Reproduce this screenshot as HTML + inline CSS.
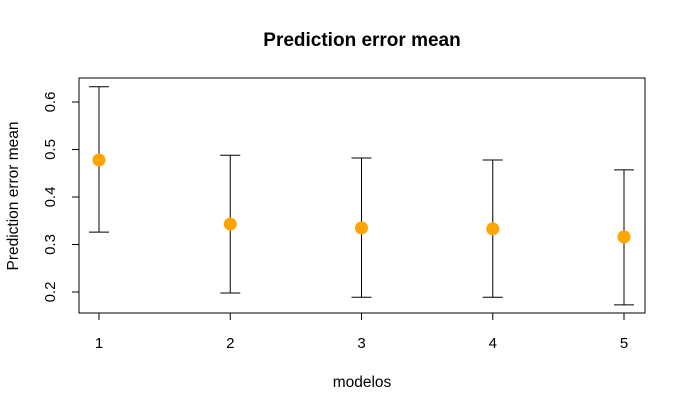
<!DOCTYPE html>
<html><head><meta charset="utf-8"><style>body{margin:0;background:#fff}svg{display:block}text{font-family:"Liberation Sans",sans-serif}</style></head>
<body>
<svg id="c" width="686" height="412" xmlns="http://www.w3.org/2000/svg">
<text x="362" y="46" text-anchor="middle" font-size="19" font-weight="bold">Prediction error mean</text>
<rect x="79" y="78" width="566" height="235" fill="none" stroke="#000"/>
<text x="362" y="387" text-anchor="middle" font-size="15.5">modelos</text>
<text transform="translate(18,196) rotate(-90)" text-anchor="middle" font-size="15.5">Prediction error mean</text>
<g id="g"></g>
</svg>
<script>
const categories=[1,2,3,4,5];
const means=[0.478,0.343,0.335,0.333,0.316];
const upper=[0.632,0.488,0.482,0.478,0.457];
const lower=[0.326,0.198,0.189,0.189,0.173];
const yTicks=[0.2,0.3,0.4,0.5,0.6];
const xs=v=>99+(v-1)*131.25;
const ys=v=>292-(v-0.2)*475;
const g=document.getElementById('g');
const NS='http://www.w3.org/2000/svg';
function mk(t,a){const e=document.createElementNS(NS,t);for(const k in a)e.setAttribute(k,a[k]);g.appendChild(e);return e;}
yTicks.forEach(v=>{
 const l=mk('line',{x1:72,x2:79,y1:ys(v),y2:ys(v),stroke:'#000'});
 
 
 const t=mk('text',{transform:`translate(55,${ys(v)}) rotate(-90)`,'text-anchor':'middle','font-size':15});
 t.textContent=v.toFixed(1);
 
 
});
categories.forEach((c,i)=>{
 const x=xs(c);
 const l=mk('line',{x1:x,x2:x,y1:313,y2:320,stroke:'#000'});
 
 
 const t=mk('text',{x:x,y:348,'text-anchor':'middle','font-size':15});
 t.textContent=c;
 
 
 const e=mk('path',{d:`M${x},${ys(upper[i])}V${ys(lower[i])}M${x-10},${ys(upper[i])}H${x+10}M${x-10},${ys(lower[i])}H${x+10}`,stroke:'#000',fill:'none'});
 
 
 const p=mk('circle',{cx:x,cy:ys(means[i]),r:6.5,fill:'#FFA500'});
 
 
});
</script>
</body></html>
